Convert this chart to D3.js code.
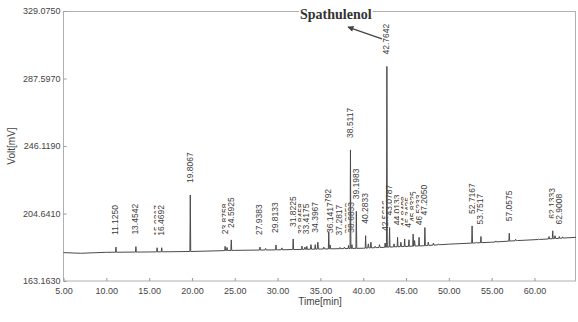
<!DOCTYPE html>
<html>
<head>
<meta charset="utf-8">
<script src="https://cdn.jsdelivr.net/npm/d3@7"></script>
<style>
body { margin: 0; background: #fff; }
text { font-family: "Liberation Sans", Arial, sans-serif; }
</style>
</head>
<body>
<svg id="chart" width="578" height="322"></svg>
<script>
var svg = d3.select('svg#chart');

// axis ticks
var xTicks = [5, 10, 15, 20, 25, 30, 35, 40, 45, 50, 55, 60];
var yTicks = [163.1630, 204.6410, 246.1190, 287.5970, 329.0750];

// drifting baseline
var baseTimes  = [5, 7, 10, 15, 20, 25, 30, 35, 40, 43, 47, 50, 55, 58, 61, 64.85];
var baseValues = [180.6, 180.2, 180.8, 181.0, 181.3, 182.0, 182.3, 182.8, 183.3, 184.0, 184.8, 185.8, 187.0, 188.0, 188.8, 190.0];

// labelled peaks (retention time, apex in mV)
var peakTimes = [11.1250, 13.4542, 15.9317, 16.4692, 19.8067, 23.8758, 24.5925, 27.9383, 29.8133,
                 31.8225, 32.8458, 33.4175, 34.3967, 35.9792, 36.1417, 37.2817, 38.2858, 38.5117,
                 38.6833, 39.1983, 40.2833, 42.5616, 42.7642, 43.0787, 44.0133, 44.8408, 45.3425,
                 45.8325, 46.5233, 47.2050, 52.7167, 53.7517, 57.0575, 62.1333, 62.9008];
var peakTops  = [184.0, 184.3, 183.6, 183.6, 216.0, 184.5, 188.4, 184.0, 185.3,
                 189.0, 184.6, 184.5, 185.5, 193.5, 185.3, 183.8, 185.0, 243.7,
                 185.5, 206.0, 191.0, 186.5, 295.0, 196.0, 190.0, 189.0, 188.5,
                 192.0, 190.0, 196.0, 197.0, 190.5, 192.5, 194.0, 190.5];

// small unlabelled bumps
var minorTimes = [24.1, 28.6, 30.5, 33.2, 33.9, 34.7, 35.4, 37.8, 40.6, 40.9, 41.4, 41.9, 43.6,
                  44.4, 46.0, 47.6, 48.2, 48.8, 53.2, 55.5, 57.8, 60.5, 61.7, 62.4, 63.3];
var minorTops  = [183.8, 183.2, 183.5, 184.0, 185.5, 187.0, 184.0, 184.0, 186.0, 187.0, 184.5, 185.5, 186.0,
                  187.0, 188.0, 187.0, 186.5, 186.0, 187.0, 187.8, 188.8, 189.0, 190.5, 191.0, 190.3];

// annotation
var noteText = 'Spathulenol';
var notePos = [32.62, 324.2];
var arrowFrom = [42.19, 311.9];
var arrowTo = [38.22, 319.2];

var x = d3.scaleLinear().domain([5, 64.85]).range([63.5, 576]);
var y = d3.scaleLinear().domain([163.163, 329.075]).range([281, 11]);

// frame
svg.append('rect')
  .attr('x', 63.5).attr('y', 11.5).attr('width', 512).attr('height', 269.5)
  .style('fill', 'none').style('stroke', '#b0b0b0').style('stroke-width', '1px');

var gx = svg.append('g').attr('transform', 'translate(0,281)')
  .call(d3.axisBottom(x).tickValues(xTicks).tickFormat(d3.format('.2f'))
    .tickSizeInner(-3).tickSizeOuter(0).tickPadding(7));
var gy = svg.append('g').attr('transform', 'translate(63.5,0)')
  .call(d3.axisLeft(y).tickValues(yTicks).tickFormat(d3.format('.4f'))
    .tickSizeInner(-3).tickSizeOuter(0).tickPadding(3));
[gx, gy].forEach(function(g){
  g.select('.domain').remove();
  g.selectAll('line').style('stroke', '#999');
  g.selectAll('text').style('font-size', '9px').style('fill', '#444')
    .style('font-family', '"Liberation Sans", Arial, sans-serif');
});

svg.append('text').attr('x', 320).attr('y', 305).attr('text-anchor', 'middle')
  .style('font-size', '10px').style('fill', '#444').text('Time[min]');
svg.append('text').attr('transform', 'translate(15,146) rotate(-90)').attr('text-anchor', 'middle')
  .style('font-size', '10px').style('fill', '#444').text('Volt[mV]');

// peak labels (white boxes, later ones cover earlier ones)
var gap = 12;
peakTimes.forEach(function(t, i){
  var g = svg.append('g')
    .attr('transform', 'translate(' + (x(t) - 0.5) + ',' + (y(peakTops[i]) - gap) + ') rotate(-90)');
  var r = g.append('rect').style('fill', '#fff');
  var tx = g.append('text').attr('x', 0).attr('dy', '0.35em')
    .style('font-size', '8.5px').style('fill', '#3c3c3c').text(t.toFixed(4));
  var len = tx.node().getComputedTextLength();
  r.attr('x', -1).attr('y', -5).attr('width', len + 2).attr('height', 10);
});

// chromatogram trace
var baseAt = d3.scaleLinear().domain(baseTimes).range(baseValues);
var pts = baseTimes.map(function(t, i){ return [t, baseValues[i]]; });
function addPeak(t, v, w){
  pts.push([t - w, baseAt(t - w)], [t, v], [t + w, baseAt(t + w)]);
}
peakTimes.forEach(function(t, i){ addPeak(t, peakTops[i], 0.05); });
minorTimes.forEach(function(t, i){ addPeak(t, minorTops[i], 0.07); });
pts.sort(function(a, b){ return a[0] - b[0]; });

var line = d3.line().x(function(d){ return x(d[0]); }).y(function(d){ return y(d[1]); });
svg.append('path').attr('d', line(pts))
  .style('fill', 'none').style('stroke', '#4a4a4a').style('stroke-width', '1px');

// annotation
var defs = svg.append('defs');
defs.append('marker').attr('id', 'ah').attr('viewBox', '0 0 10 10')
  .attr('refX', 9).attr('refY', 5).attr('markerWidth', 9).attr('markerHeight', 6)
  .attr('orient', 'auto').attr('markerUnits', 'userSpaceOnUse')
  .append('path').attr('d', 'M0,0 L10,5 L0,10 z').style('fill', '#444');
svg.append('line')
  .attr('x1', x(arrowFrom[0])).attr('y1', y(arrowFrom[1]))
  .attr('x2', x(arrowTo[0])).attr('y2', y(arrowTo[1]))
  .attr('marker-end', 'url(#ah)')
  .style('stroke', '#444').style('stroke-width', '1.3px');

var nb = svg.append('rect').style('fill', '#fff');
var nt = svg.append('text').attr('x', x(notePos[0])).attr('y', y(notePos[1]))
  .style('font-family', '"Liberation Serif", "Times New Roman", serif')
  .style('font-weight', 'bold').style('font-size', '14px').style('fill', '#333')
  .text(noteText);
var bb = nt.node().getBBox();
nb.attr('x', bb.x - 1).attr('y', bb.y).attr('width', bb.width + 2).attr('height', bb.height);
</script>
</body>
</html>
